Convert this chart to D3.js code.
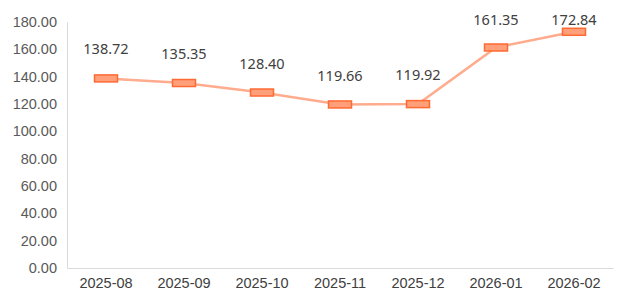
<!DOCTYPE html>
<html>
<head>
<meta charset="utf-8">
<script src="https://cdn.jsdelivr.net/npm/d3@7"></script>
<style>
  body { margin: 0; background: #fff; }
  svg { display: block; font-family: "Noto Sans", "Open Sans", sans-serif; }
</style>
</head>
<body>
<script>
// data
const months = ["2025-08", "2025-09", "2025-10", "2025-11", "2025-12", "2026-01", "2026-02"];
const values = [138.72, 135.35, 128.40, 119.66, 119.92, 161.35, 172.84];
const yTicks = [0, 20, 40, 60, 80, 100, 120, 140, 160, 180];

const width = 631, height = 306;
const margin = {top: 22, right: 18, bottom: 38, left: 67};

const svg = d3.select("body").append("svg")
    .attr("width", width)
    .attr("height", height);

const x = d3.scaleBand()
    .domain(months)
    .range([margin.left, width - margin.right]);

const y = d3.scaleLinear()
    .domain([0, 180])
    .range([height - margin.bottom, margin.top]);

// y axis: line + labels, no ticks
const yAxis = svg.append("g")
    .attr("transform", `translate(${margin.left},0)`)
    .call(d3.axisLeft(y).tickValues(yTicks).tickFormat(d3.format(".2f")).tickSize(0).tickPadding(10));
yAxis.select(".domain").attr("stroke", "#d9d9d9");
yAxis.selectAll("text").attr("fill", "#595959").style("font-size", "14.5px");

const xAxis = svg.append("g")
    .attr("transform", `translate(0,${y(0)})`)
    .call(d3.axisBottom(x).tickSize(0).tickPadding(10));
xAxis.select(".domain").attr("stroke", "#d9d9d9");
xAxis.selectAll("text").attr("fill", "#404040").style("font-size", "14.5px");

const cx = d => x(d.m) + x.bandwidth() / 2;
const pts = months.map((m, i) => ({m, v: values[i]}));

svg.append("path")
    .datum(pts)
    .attr("fill", "none")
    .attr("stroke", "#ffab8e")
    .attr("stroke-width", 2.5)
    .attr("d", d3.line().x(cx).y(d => y(d.v)));

svg.append("g").selectAll("rect")
  .data(pts)
  .enter().append("rect")
    .attr("x", d => cx(d) - 11.5)
    .attr("y", d => y(d.v) - 3.5)
    .attr("width", 23)
    .attr("height", 7)
    .attr("fill", "#ffa07a")
    .attr("stroke", "#ff6a33")
    .attr("stroke-width", 1.5);

svg.append("g")
    .attr("text-anchor", "middle")
  .selectAll("text")
  .data(pts)
  .enter().append("text")
    .attr("x", cx)
    .attr("y", d => Math.max(20, y(d.v) - 29))
    .attr("dy", "0.35em")
    .attr("fill", "#404040")
    .style("font-size", "14.5px")
    .text(d => d.v.toFixed(2));
</script>
</body>
</html>
